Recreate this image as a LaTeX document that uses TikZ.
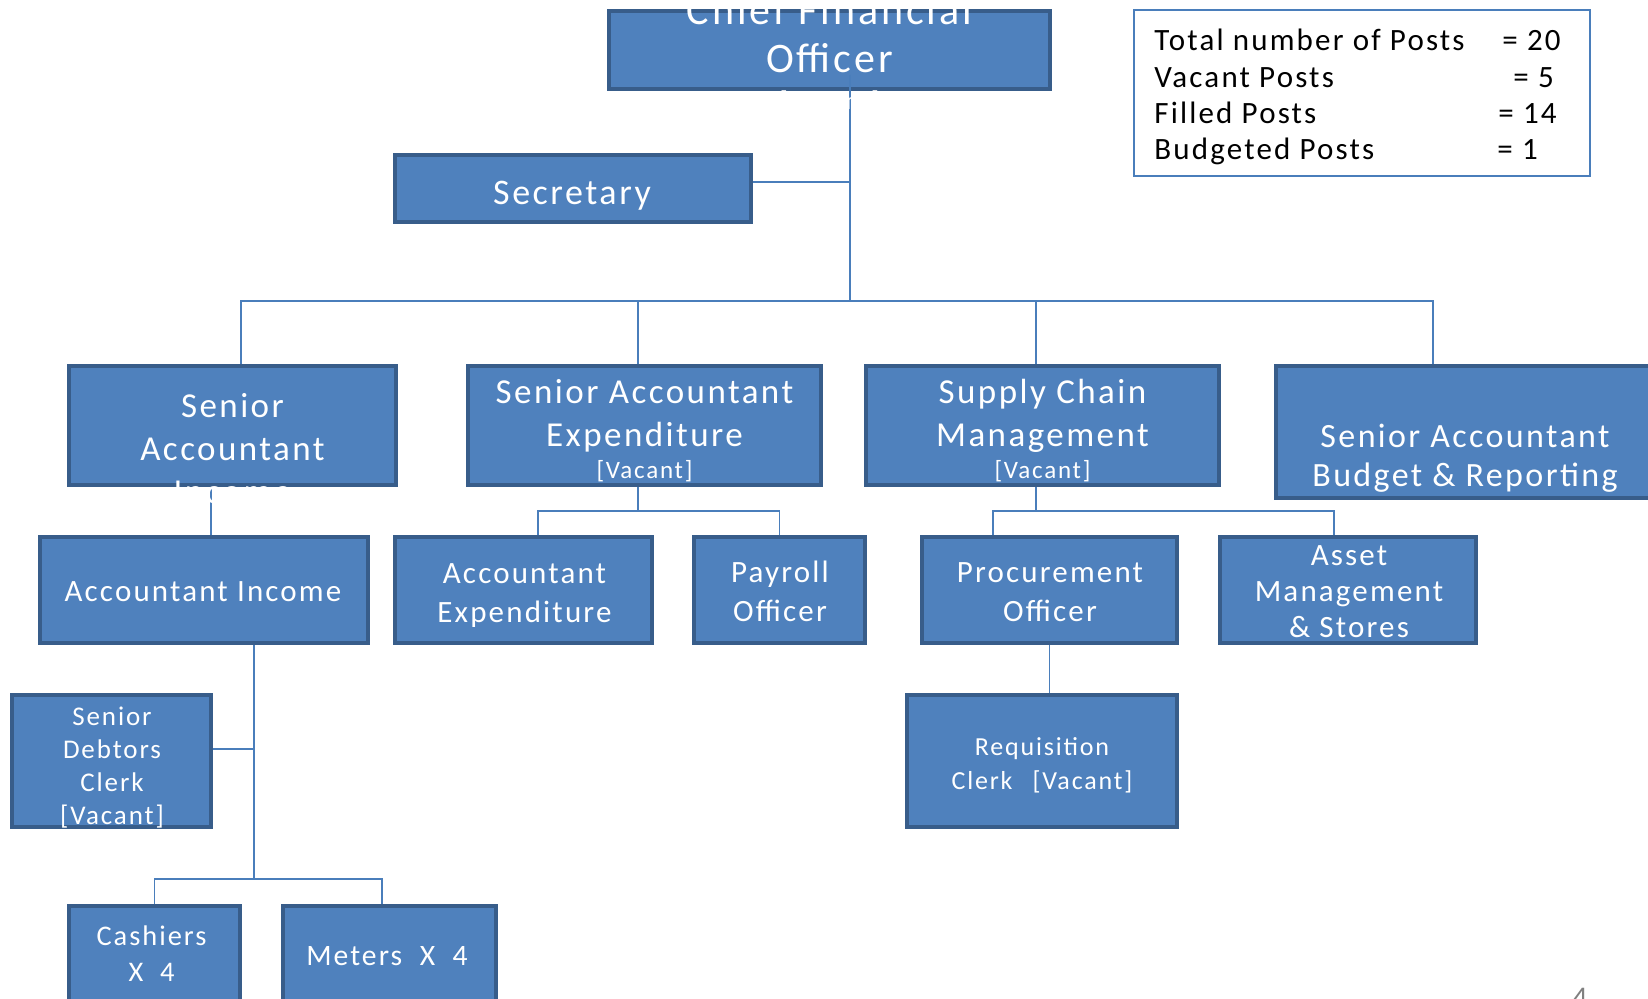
\documentclass[tikz,border=0pt]{standalone}
\usepackage{fontspec}
\setmainfont{Carlito}[LetterSpace=7]
\usepackage{xcolor}
\usetikzlibrary{positioning, fit, calc}

\definecolor{boxfill}{HTML}{4F81BD}
\definecolor{boxline}{HTML}{385D8A}
\definecolor{linkblue}{HTML}{4A7EBB}
\definecolor{pagegray}{HTML}{808080}

\tikzset{
  orgbox/.style={draw=boxline, fill=boxfill, line width=2.2pt, inner sep=-1.1pt},
  boxtext/.style={text=white, align=center, inner sep=0pt},
  link/.style={draw=linkblue, line width=0.8pt},
  keytext/.style={anchor=base west, inner sep=0pt, font=\fontsize{15.5}{18}\selectfont},
  fCfo/.style={font=\fontsize{21}{24}\selectfont},
  fTop/.style={font=\fontsize{17.5}{21.5}\selectfont},
  fSabr/.style={font=\fontsize{17}{19.5}\selectfont},
  fSec/.style={font=\fontsize{18}{21}\selectfont},
  fMid/.style={font=\fontsize{15.5}{19.5}\selectfont},
  fAms/.style={font=\fontsize{15.5}{18}\selectfont},
  fReq/.style={font=\fontsize{13}{17}\selectfont},
  fSdc/.style={font=\fontsize{13.5}{16.5}\selectfont},
  fCash/.style={font=\fontsize{14.2}{18}\selectfont},
  fMet/.style={font=\fontsize{14.8}{18}\selectfont}
}

\begin{document}
\begin{tikzpicture}[x=0.5pt, y=-0.5pt]
  \useasboundingbox[fill=white] (0,0) rectangle (1648,999);

  % boxes
  \node[orgbox, fit={(607,9) (1052,91)}] (cfo) {};
  \node[orgbox, fit={(393,153) (753,224)}] (sec) {};
  \node[orgbox, fit={(67,364) (398,487)}] (sai) {};
  \node[orgbox, fit={(466,364) (823,487)}] (sae) {};
  \node[orgbox, fit={(864,364) (1221,487)}] (scm) {};
  \node[orgbox, fit={(1274,364) (1656,500)}] (sabr) {};
  \node[orgbox, fit={(38,535) (370,645)}] (ai) {};
  \node[orgbox, fit={(393,535) (654,645)}] (ae) {};
  \node[orgbox, fit={(692,535) (867,645)}] (po) {};
  \node[orgbox, fit={(920,535) (1179,645)}] (proc) {};
  \node[orgbox, fit={(1218,535) (1478,645)}] (ams) {};
  \node[orgbox, fit={(10,693) (213,829)}] (sdc) {};
  \node[orgbox, fit={(905,693) (1179,829)}] (req) {};
  \node[orgbox, fit={(67,904) (242,1015)}] (cash) {};
  \node[orgbox, fit={(281,904) (498,1015)}] (met) {};

  % connectors
  \coordinate (hub) at ($(cfo.south)+(20.5,210)$);
  \draw[link] ($(cfo.south)+(20.5,-16)$) -- (hub);
  \draw[link] ($(sec.east)+(0,-6.5)$) -| (hub);
  \draw[link] ($(sai.north)+(8.5,0)$) |- (hub);
  \draw[link] ($(sae.north)+(-6.5,0)$) |- (hub);
  \draw[link] ($(scm.north)+(-6.5,0)$) |- (hub);
  \draw[link] ($(sabr.north)+(-32,0)$) |- (hub);

  \coordinate (saeJ) at ($(sae.south)+(-6.5,24)$);
  \draw[link] ($(sae.south)+(-6.5,0)$) -- (saeJ);
  \draw[link] ($(ae.north)+(14.5,0)$) |- (saeJ) -| (po.north);

  \coordinate (scmJ) at ($(scm.south)+(-6.5,24)$);
  \draw[link] ($(scm.south)+(-6.5,0)$) -- (scmJ);
  \draw[link] ($(proc.north)+(-56.5,0)$) |- (scmJ);
  \draw[link] ($(ams.north)+(-14,0)$) |- (scmJ);
  \draw[link] (proc.south) -- (proc.south |- req.north);

  \coordinate (aiTop) at ($(ai.north)+(7,0)$);
  \draw[link] (aiTop) -- (aiTop |- sai.south);
  \coordinate (aiHub) at ($(ai.south)+(50,234)$);
  \draw[link] ($(ai.south)+(50,0)$) -- (aiHub);
  \coordinate (sdcR) at ($(sdc.east)+(0,-12)$);
  \draw[link] (sdcR) -- (sdcR -| aiHub);
  \draw[link] (cash.north) |- (aiHub) -| ($(met.north)+(-7.5,0)$);

  % texts
  \node[boxtext, fCfo] (cfo-t) at (829.5,54) {Chief Financial\\Officer\\[-5.5pt]{\fontsize{13}{15}\selectfont[Vacant]}};
  \node[boxtext, fSec] (sec-t) at (572,196) {Secretary};
  \node[boxtext, fTop] (sai-t) at (232.5,449) {Senior\\Accountant\\Income};
  \node[boxtext, fTop] (sae-t) at (644.5,431) {Senior Accountant\\Expenditure\\[-5.5pt]{\fontsize{12.5}{15}\selectfont[Vacant]}};
  \node[boxtext, fTop] (scm-t) at (1042.5,431) {Supply Chain\\Management\\[-5.5pt]{\fontsize{12.5}{15}\selectfont[Vacant]}};
  \node[boxtext, fSabr] (sabr-t) at (1465,458) {Senior Accountant\\Budget \& Reporting};
  \node[boxtext, fMid] (ai-t) at (203,591.7) {Accountant Income};
  \node[boxtext, fMid] (ae-t) at (524.5,595.3) {Accountant\\Expenditure};
  \node[boxtext, fMid] (po-t) at (780,591.2) {Payroll\\Officer};
  \node[boxtext, fMid] (proc-t) at (1050,592.2) {Procurement\\Officer};
  \node[boxtext, fAms] (ams-t) at (1349,592) {Asset\\Management\\\& Stores};
  \node[boxtext, fReq] (req-t) at (1042,765.7) {Requisition\\Clerk\hspace{10pt}[Vacant]};
  \node[boxtext, fSdc] (sdc-t) at (112,767.7) {Senior\\Debtors\\Clerk\\{[Vacant]}};
  \node[boxtext, fCash] (cash-t) at (151.5,953.6) {Cashiers\\X\ \ 4};
  \node[boxtext, fMet] (met-t) at (387,956.2) {Meters\ \ X\ \ 4};

  % key of post counts
  \node[draw=linkblue, line width=0.85pt, inner sep=0pt, fit={(1134,10) (1590,176)}] (key) {};
  \node[keytext] (keyTot) at (1154,51) {Total number of Posts};
  \node[keytext] (keyTotN) at (1502,51) {= 20};
  \node[keytext] (keyVac) at (1154,88) {Vacant Posts};
  \node[keytext] (keyVacN) at (1513,88) {= 5};
  \node[keytext] (keyFil) at (1154,124) {Filled Posts};
  \node[keytext] (keyFilN) at (1498,124) {= 14};
  \node[keytext] (keyBud) at (1154,160) {Budgeted Posts};
  \node[keytext] (keyBudN) at (1497,160) {= 1};

  \node[anchor=base west, inner sep=0pt, text=pagegray, font=\fontsize{15}{18}\selectfont] (pgnum) at (1572,1007) {4};
\end{tikzpicture}
\end{document}
